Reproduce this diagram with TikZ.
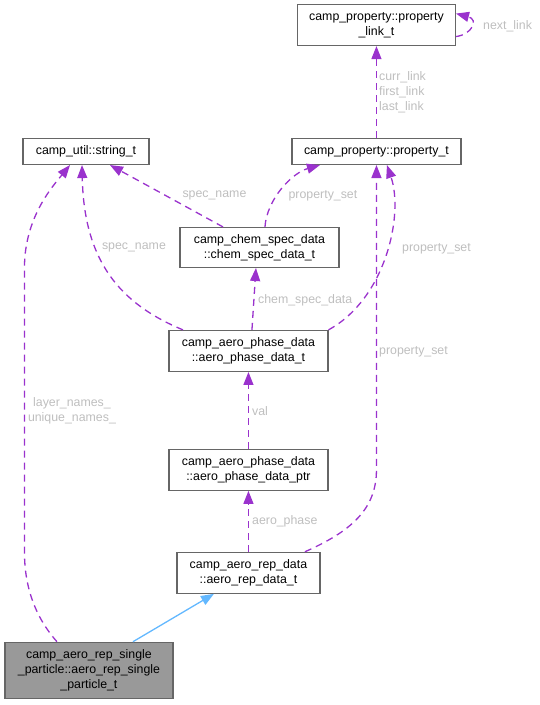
\documentclass[tikz,border=0pt]{standalone}
\usepackage{fontspec}
\setmainfont{Liberation Sans}
\usetikzlibrary{arrows.meta}
\definecolor{edgepurple}{HTML}{9A32CD}
\definecolor{boxgray}{HTML}{666666}
\definecolor{lblgray}{HTML}{BEBEBE}
\definecolor{basefill}{HTML}{999999}
\definecolor{inhblue}{HTML}{63B8FF}
\begin{document}
\begin{tikzpicture}[x=1pt, y=1pt,
		cls/.style={
			draw=boxgray,
			line width=1.1pt,
			fill=white,
			inner sep=0pt,
			align=center,
			font=\fontsize{12.35}{15}\selectfont},
		lbl/.style={
			text=lblgray,
			inner sep=0pt,
			align=center,
			font=\fontsize{12.35}{15}\selectfont},
		dep/.style={
			draw=edgepurple,
			line width=1.3pt,
			dash pattern=on 7pt off 5pt,
			-{Triangle[length=13pt,width=10pt]}},
		inh/.style={
			draw=inhblue,
			line width=1.3pt,
			-{Triangle[length=13pt,width=10pt]}}]

		\useasboundingbox (0,0) rectangle (540,-705);

		\node (str) [cls, minimum width=126pt, minimum height=26pt] at (86,-151.5) {camp\_util::string\_t};
		\node (prop) [cls, minimum width=169pt, minimum height=26pt, right of = str, xshift=262pt] {camp\_property::property\_t};
		\node (link) [cls, minimum width=158pt, minimum height=41pt, above of = prop, yshift=98pt] {camp\_property::property\\\_link\_t};

		\node (chem) [cls, minimum width=159pt, minimum height=40pt, below of = prop, xshift=-117pt, yshift=-67.5pt] {camp\_chem\_spec\_data\\::chem\_spec\_data\_t};
		\node (apd) [cls, minimum width=159pt, minimum height=41pt, below of = chem, xshift=-11pt, yshift=-75pt] {camp\_aero\_phase\_data\\::aero\_phase\_data\_t};
		\node (ptr) [cls, minimum width=159pt, minimum height=41pt, below of = apd, yshift=-90.5pt] {camp\_aero\_phase\_data\\::aero\_phase\_data\_ptr};
		\node (rep) [cls, minimum width=143pt, minimum height=41pt, below of = ptr, yshift=-74.5pt] {camp\_aero\_rep\_data\\::aero\_rep\_data\_t};
		\node (single) [cls, fill=basefill, minimum width=168pt, minimum height=56pt, below of = rep, xshift=-159.5pt, yshift=-69pt] {camp\_aero\_rep\_single\\\_particle::aero\_rep\_single\\\_particle\_t};

		\draw [dep] ([yshift=-11.5pt]link.east) .. controls +(16pt,2pt) and +(23pt,-6pt) .. ([yshift=11.5pt]link.east);
		\draw [dep] (prop) -- (link);
		\draw [dep] ([xshift=-36.5pt]chem.north) -- ([xshift=24pt]str.south);
		\draw [dep] ([xshift=5.5pt]chem.north) .. controls +(2pt,28pt) and +(-28pt,-8pt) .. ([xshift=-56.5pt]prop.south);
		\draw [dep] ([xshift=-65.5pt]apd.north) .. controls +(-63pt,26pt) and +(2pt,-96pt) .. ([xshift=-4pt]str.south);
		\draw [dep] ([xshift=3.5pt]apd.north) -- ([xshift=-3.5pt]chem.south);
		\draw [dep] (apd.north east) .. controls +(57pt,31pt) and +(17pt,-50pt) .. ([xshift=10.5pt]prop.south);
		\draw [dep] (ptr) -- (apd);
		\draw [dep] (rep) -- (ptr);
		\draw [dep] ([xshift=56.5pt]rep.north) .. controls +(45pt,20pt) and +(0pt,-40pt) .. (prop.south |- ptr.center) -- (prop.south);
		\draw [dep] ([xshift=-32pt]single.north) .. controls +(-22pt,25pt) and +(0pt,-35pt) .. ([xshift=2pt]str.west |- rep.north) -- ([xshift=2pt]str.west |- chem.south) .. controls +(0pt,50pt) and +(-18pt,-22pt) .. ([xshift=-16pt]str.south);
		\draw [inh] ([xshift=44pt]single.north) -- ([xshift=-34.5pt]rep.south);

		\node (lnext) [lbl, anchor=west] at ([xshift=27pt,yshift=-1.5pt]link.east) {next\_link};
		\node (llink) [lbl, anchor=west, align=left] at ([xshift=2.5pt,yshift=46pt]prop.north) {curr\_link\\first\_link\\last\_link};
		\node (lspec1) [lbl] at ([xshift=-45pt,yshift=31pt]chem.north) {spec\_name};
		\node (lprop1) [lbl] at ([xshift=63.5pt,yshift=31pt]chem.north) {property\_set};
		\node (lspec2) [lbl] at ([xshift=-114.5pt,yshift=82pt]apd.north) {spec\_name};
		\node (lprop2) [lbl, anchor=west] at ([xshift=25.5pt,yshift=-84pt]prop.south) {property\_set};
		\node (lchem) [lbl, anchor=west] at ([xshift=9.5pt,yshift=30pt]apd.north) {chem\_spec\_data};
		\node (lval) [lbl, anchor=west] at ([xshift=3.5pt,yshift=38pt]ptr.north) {val};
		\node (lprop3) [lbl, anchor=west] at ([xshift=2.5pt,yshift=-187pt]prop.south) {property\_set};
		\node (llayer) [lbl] at ([xshift=-17pt,yshift=231pt]single.north) {layer\_names\_\\unique\_names\_};
		\node (laero) [lbl, anchor=west] at ([xshift=3.5pt,yshift=30pt]rep.north) {aero\_phase};
	\end{tikzpicture}
\end{document}
